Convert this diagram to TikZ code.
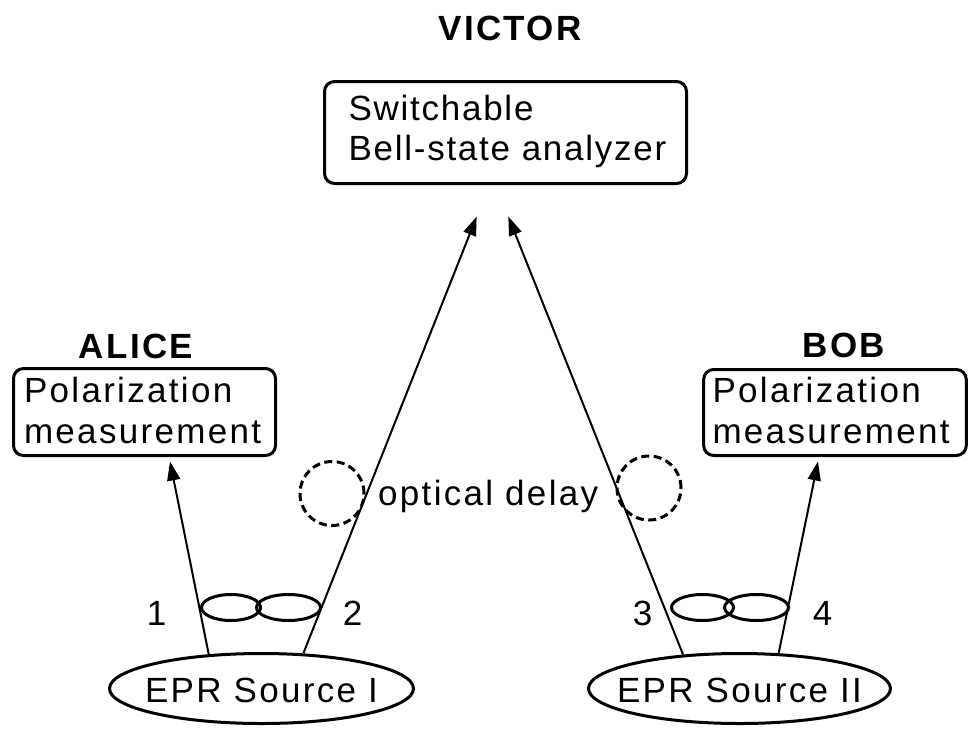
\documentclass[tikz,border=0pt]{standalone}
\usepackage{fontspec}
\setmainfont{Liberation Sans}[LetterSpace=6.6]
\usetikzlibrary{shapes.geometric,arrows.meta,calc}
\begin{document}
\begin{tikzpicture}[x=1pt,y=-1pt,
  box/.style={draw, line width=3pt, rounded corners=10pt, align=left, inner ysep=0pt},
  src/.style={ellipse, draw, line width=3pt, inner xsep=-50pt, inner ysep=0pt, minimum height=70pt,
    text height=27pt, text depth=0pt, font=\fontsize{35}{40}\selectfont},
  ring/.style={ellipse, draw, line width=3pt, inner sep=0pt, minimum height=26pt},
  delaycirc/.style={circle, draw, line width=3pt, dash pattern=on 8pt off 4.5pt,
    minimum size=64pt, inner sep=0pt},
  beam/.style={line width=2pt, -{Triangle[length=19pt,width=13pt]}},
  lbl/.style={font=\fontsize{35}{40}\selectfont, inner sep=0pt, anchor=base},
  partylabel/.style={font=\bfseries\fontsize{35}{40}\selectfont, inner sep=0pt, anchor=base}]
\useasboundingbox (0,0) rectangle (969,729);

% party labels
\node[partylabel] (victorlbl) at (510,40) {VICTOR};
\node[partylabel] (alicelbl) at (136,358) {ALICE};
\node[partylabel] (boblbl) at (844,357) {BOB};

% boxes
\node[box, font=\fontsize{35}{40}\selectfont\addfontfeature{LetterSpace=5}, text width=314pt, inner xsep=24pt,
  text height=38.5pt, text depth=63.5pt] (victor) at (505.5,132.5)
  {Switchable\\\mbox{Bell-state analyzer}};
\node[box, font=\fontsize{35}{41}\selectfont, text width=241pt, inner xsep=10.5pt,
  text height=33.5pt, text depth=53.5pt] (alice) at (144.5,412)
  {Polarization\\measurement};
\node[box, font=\fontsize{35}{41}\selectfont, text width=245pt, inner xsep=8.8pt,
  text height=32.5pt, text depth=53.5pt] (bob) at (835,412.5)
  {Polarization\\measurement};

% sources
\node[src, minimum width=304pt] (src1) at (261.5,688.5) {EPR Source I};
\node[src, minimum width=302pt] (src2) at (739.5,688.5) {EPR Source II};

% entanglement rings
\node[ring, minimum width=59pt] (ring1a) at (231,607.5) {};
\node[ring, minimum width=64pt] (ring1b) at (288.5,607.5) {};
\node[ring, minimum width=62pt] (ring2a) at (702.5,607.5) {};
\node[ring, minimum width=64pt] (ring2b) at (756.5,607.5) {};

% optical delays
\node[delaycirc] (delay1) at (332,493.5) {};
\node[delaycirc] (delay2) at (649,488) {};
\node[lbl, anchor=base west] (delaylbl) at (378,505) {optical delay};

% photon labels
\node[lbl] (n1) at (156.5,625) {1};
\node[lbl] (n2) at (352.5,625) {2};
\node[lbl] (n3) at (642.5,625) {3};
\node[lbl] (n4) at (822.5,625) {4};

% beams
\draw[beam] (src1.147) -- ($(alice.south)+(25.5,4.5)$);
\draw[beam] (src1.40) -- ($(victor.south)+(-28.8,31.5)$);
\draw[beam] (src2.149.6) -- ($(victor.south)+(2.8,31.5)$);
\draw[beam] (src2.42.5) -- ($(bob.south)+(-17,4.5)$);
\end{tikzpicture}
\end{document}
